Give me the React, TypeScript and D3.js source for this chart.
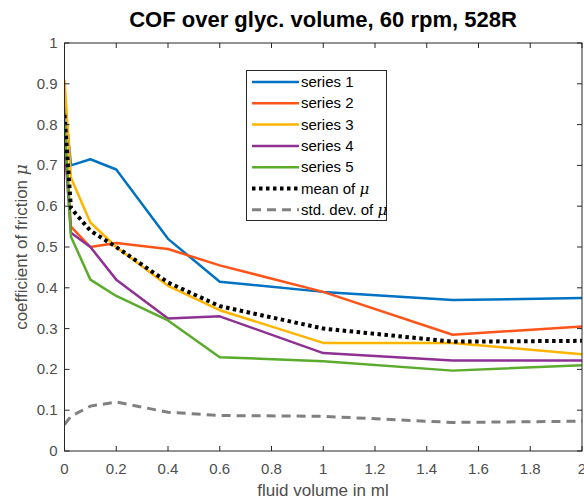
import React from "react";
import * as d3 from "d3";

const volumes = [0, 0.025, 0.1, 0.2, 0.4, 0.6, 1, 1.5, 2];
const series1 = [0.865, 0.70, 0.715, 0.69, 0.52, 0.415, 0.39, 0.37, 0.375];
const series2 = [0.8, 0.55, 0.50, 0.51, 0.495, 0.455, 0.39, 0.285, 0.305];
const series3 = [0.91, 0.67, 0.56, 0.50, 0.405, 0.345, 0.265, 0.265, 0.237];
const series4 = [0.75, 0.535, 0.50, 0.42, 0.325, 0.33, 0.24, 0.222, 0.222];
const series5 = [0.80, 0.525, 0.42, 0.38, 0.32, 0.23, 0.22, 0.197, 0.21];
const meanMu = [0.824, 0.595, 0.54, 0.50, 0.413, 0.355, 0.30, 0.268, 0.27];
const stdMu = [0.065, 0.085, 0.11, 0.12, 0.095, 0.087, 0.085, 0.07, 0.073];
const xTicks = [0, 0.2, 0.4, 0.6, 0.8, 1, 1.2, 1.4, 1.6, 1.8, 2];
const yTicks = [0, 0.1, 0.2, 0.3, 0.4, 0.5, 0.6, 0.7, 0.8, 0.9, 1];
const seriesNames = ["series 1", "series 2", "series 3", "series 4", "series 5"];
const colors = ["#0072C4", "#FF5419", "#FFB400", "#8E3193", "#5BAB2D"];

export default function App() {
  const W = 584, H = 499;
  const L = 64.5, R = 582, T = 43, B = 451;
  const x = d3.scaleLinear().domain([0, 2]).range([L, R]);
  const y = d3.scaleLinear().domain([0, 1]).range([B, T]);
  const line = d3.line<number>().x((_, i) => x(volumes[i])).y((d) => y(d));
  const all = [series1, series2, series3, series4, series5];
  const font = "'Liberation Sans', Arial, Helvetica, sans-serif";
  const tickColor = "#262626";
  const labelColor = "#4d4d4d";
  const legX = 246.5, legY = 70.5, legW = 140, legH = 150;
  const rowY = (i: number) => legY + 11.5 + i * 21.3;
  const mu = { fontStyle: "italic" as const, fontFamily: "'DejaVu Serif', serif" };
  return (
    <svg width={W} height={H} style={{ position: "absolute", left: 0, top: 0, background: "#fff" }} fontFamily={font}>
      <rect x={0} y={0} width={W} height={H} fill="#fff" />
      <text x={323} y={27} textAnchor="middle" fontSize={22} fontWeight="bold" fill="#000">
        COF over glyc. volume, 60 rpm, 528R
      </text>
      <defs>
        <clipPath id="plotclip">
          <rect x={L} y={T} width={R - L} height={B - T} />
        </clipPath>
      </defs>
      <g clipPath="url(#plotclip)">
        <path d={line(stdMu) || ""} fill="none" stroke="#808080" strokeWidth={3} strokeDasharray="9,6" />
        {all.map((s, i) => (
          <path key={i} d={line(s) || ""} fill="none" stroke={colors[i]} strokeWidth={2.5} strokeLinejoin="round" />
        ))}
        <path d={line(meanMu) || ""} fill="none" stroke="#000" strokeWidth={4} strokeDasharray="3.5,3.5" />
      </g>
      <rect x={L} y={T} width={R - L} height={B - T} fill="none" stroke={tickColor} strokeWidth={1} />
      {xTicks.map((t) => (
        <g key={"x" + t}>
          <line x1={x(t)} x2={x(t)} y1={B} y2={B - 5} stroke={tickColor} />
          <line x1={x(t)} x2={x(t)} y1={T} y2={T + 5} stroke={tickColor} />
          <text x={x(t)} y={B + 23} textAnchor="middle" fontSize={15} fill={labelColor}>{t}</text>
        </g>
      ))}
      {yTicks.map((t) => (
        <g key={"y" + t}>
          <line x1={L} x2={L + 5} y1={y(t)} y2={y(t)} stroke={tickColor} />
          <line x1={R} x2={R - 5} y1={y(t)} y2={y(t)} stroke={tickColor} />
          <text x={L - 7} y={y(t) + 5} textAnchor="end" fontSize={15} fill={labelColor}>{t}</text>
        </g>
      ))}
      <text x={323} y={496} textAnchor="middle" fontSize={17} fill={labelColor}>fluid volume in ml</text>
      <text transform={`translate(27,${(T + B) / 2}) rotate(-90)`} textAnchor="middle" fontSize={17} fill={labelColor}>
        coefficient of friction <tspan {...mu}>μ</tspan>
      </text>
      <rect x={legX} y={legY} width={legW} height={legH} fill="#fff" stroke={tickColor} strokeWidth={1} />
      {seriesNames.map((n, i) => (
        <g key={n}>
          <line x1={252} x2={299} y1={rowY(i)} y2={rowY(i)} stroke={colors[i]} strokeWidth={2.5} />
          <text x={301} y={rowY(i) + 5} fontSize={15} fill="#000">{n}</text>
        </g>
      ))}
      <line x1={252} x2={299} y1={rowY(5)} y2={rowY(5)} stroke="#000" strokeWidth={4} strokeDasharray="3.5,3.5" />
      <text x={301} y={rowY(5) + 5} fontSize={15} fill="#000">mean of <tspan {...mu}>μ</tspan></text>
      <line x1={252} x2={299} y1={rowY(6)} y2={rowY(6)} stroke="#808080" strokeWidth={3} strokeDasharray="9,6" />
      <text x={301} y={rowY(6) + 5} fontSize={15} fill="#000">std. dev. of <tspan {...mu}>μ</tspan></text>
    </svg>
  );
}
